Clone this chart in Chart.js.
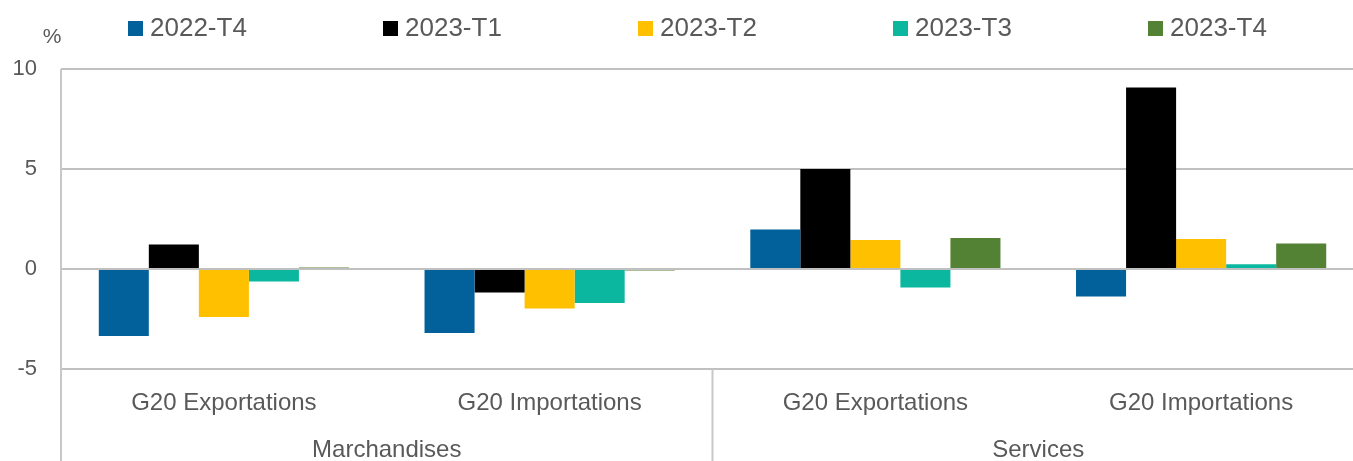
<!DOCTYPE html>
<html>
<head>
<meta charset="utf-8">
<script src="https://cdn.jsdelivr.net/npm/chart.js@4/dist/chart.umd.min.js"></script>
<style>
html,body{margin:0;padding:0;background:#fff;overflow:hidden;}
canvas{display:block;}
</style>
</head>
<body>
<canvas id="c" width="1365" height="461"></canvas>
<script>
// ---- data ----
const categories = ['G20 Exportations', 'G20 Importations', 'G20 Exportations', 'G20 Importations'];
const groupLabels = ['Marchandises', 'Services'];
const groupSizes = [2, 2];
const seriesNames = ['2022-T4', '2023-T1', '2023-T2', '2023-T3', '2023-T4'];
const s2022T4 = [-3.35, -3.2, 1.98, -1.37];
const s2023T1 = [1.23, -1.18, 5.0, 9.08];
const s2023T2 = [-2.4, -1.97, 1.45, 1.5];
const s2023T3 = [-0.63, -1.7, -0.92, 0.24];
const s2023T4 = [0.08, -0.08, 1.55, 1.28];
const yTicks = [-5, 0, 5, 10];
const unitLabel = '%';

// ---- styles ----
const colors = ['#02609B', '#000000', '#FFC000', '#0BB89F', '#548235'];
const seriesValues = [s2022T4, s2023T1, s2023T2, s2023T3, s2023T4];
const textColor = '#595959';
const FONT = '"Liberation Sans", Arial, sans-serif';

const overlay = {
  id: 'overlay',
  afterDraw(chart) {
    const ctx = chart.ctx;
    const xs = chart.scales.x;
    const area = chart.chartArea;
    const H = chart.height;
    ctx.save();
    // axis line + group separators
    ctx.strokeStyle = '#c8c8c8';
    ctx.lineWidth = 2;
    ctx.beginPath();
    ctx.moveTo(area.left, area.top);
    ctx.lineTo(area.left, H);
    let idx = 0;
    const step = xs.getPixelForValue(1) - xs.getPixelForValue(0);
    groupSizes.forEach((n, g) => {
      idx += n;
      const bx = xs.getPixelForValue(idx - 1) + step / 2;
      ctx.moveTo(bx, area.bottom);
      ctx.lineTo(bx, H);
    });
    ctx.stroke();

    // category labels
    ctx.fillStyle = textColor;
    ctx.textAlign = 'center';
    ctx.textBaseline = 'alphabetic';
    ctx.font = '24px ' + FONT;
    categories.forEach((c, i) => {
      ctx.fillText(c, xs.getPixelForValue(i), area.bottom + 41);
    });
    // group labels
    idx = 0;
    groupSizes.forEach((n, g) => {
      const x0 = xs.getPixelForValue(idx);
      const x1 = xs.getPixelForValue(idx + n - 1);
      ctx.fillText(groupLabels[g], (x0 + x1) / 2, area.bottom + 88);
      idx += n;
    });

    // unit label
    ctx.font = '21px ' + FONT;
    ctx.fillText(unitLabel, 52, 43);

    // legend
    ctx.font = '26px ' + FONT;
    ctx.textAlign = 'left';
    chart.data.datasets.forEach((ds, i) => {
      const x = 128 + i * 255;
      ctx.fillStyle = ds.backgroundColor;
      ctx.fillRect(x, 21, 15, 15);
      ctx.fillStyle = textColor;
      ctx.fillText(ds.label, x + 22, 36);
    });
    ctx.restore();
  }
};

new Chart(document.getElementById('c'), {
  type: 'bar',
  data: {
    labels: categories,
    datasets: seriesNames.map((n, i) => ({
      label: n,
      data: seriesValues[i],
      backgroundColor: colors[i],
      borderWidth: 0,
      categoryPercentage: 0.768,
      barPercentage: 1.0
    }))
  },
  options: {
    responsive: false,
    devicePixelRatio: 1,
    animation: false,
    layout: { padding: { top: 69, left: 0, right: 1, bottom: 0 } },
    plugins: { legend: { display: false }, tooltip: { enabled: false } },
    scales: {
      x: {
        grid: { display: false },
        border: { display: false },
        ticks: { display: false },
        afterFit: s => { s.height = 92; }
      },
      y: {
        min: -5,
        max: 10,
        afterBuildTicks: s => { s.ticks = yTicks.map(v => ({ value: v })); },
        grid: { color: '#c0c0c0', lineWidth: 2, drawTicks: false },
        border: { display: false },
        ticks: { color: textColor, font: { family: FONT, size: 22 }, padding: 24 },
        afterFit: s => { s.width = 61; }
      }
    }
  },
  plugins: [overlay]
});
</script>
</body>
</html>
